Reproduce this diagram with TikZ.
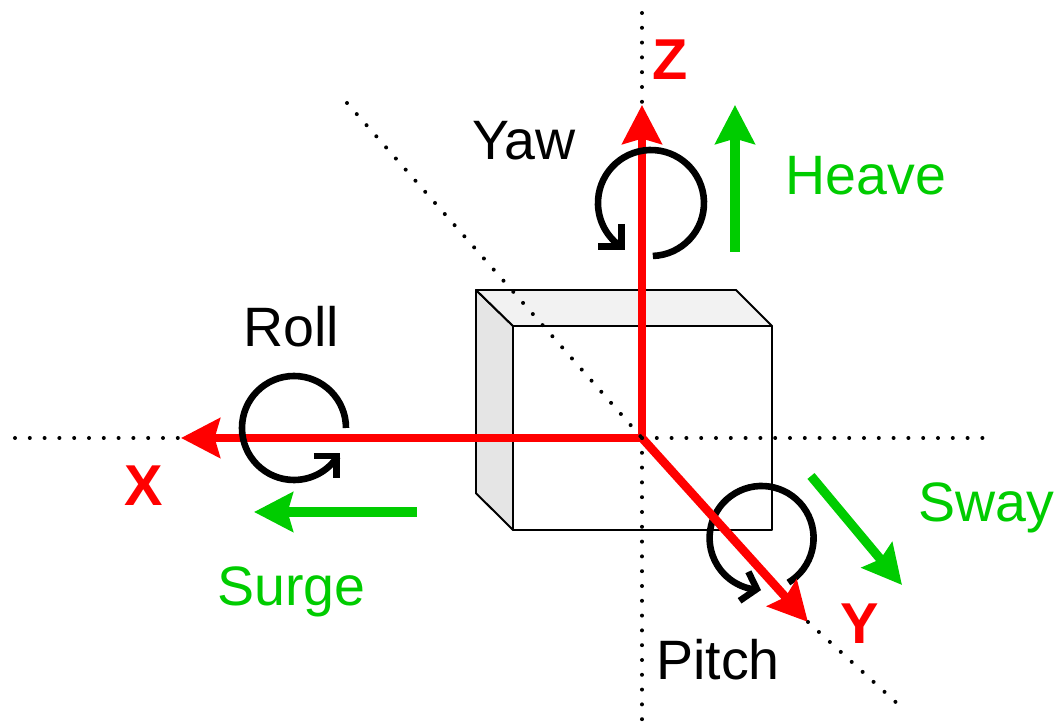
\documentclass[tikz,border=0pt]{standalone}
\usepackage{fontspec}
\setmainfont{Liberation Sans}
\usetikzlibrary{arrows.meta}
\definecolor{moveGreen}{RGB}{0,204,0}
\begin{document}
\begin{tikzpicture}[boxFace/.style={draw=black, line width=1.4pt, line join=round},
    dotAxis/.style={line width=0.1cm, line cap=round, dash pattern=on 0pt off 0.37cm},
    axisArrow/.style={-{Stealth[length=0.97cm, width=0.98cm, inset=0.13cm]}, red, line width=0.215cm},
    moveArrow/.style={-{Stealth[length=0.97cm, width=0.98cm, inset=0.13cm]}, moveGreen, line width=0.23cm},
    turnArrow/.style={line width=0.165cm, miter limit=10},
    angleText/.style={font=\fontsize{39.5}{46}\selectfont, anchor=base},
    moveText/.style={angleText, text=moveGreen},
    axisText/.style={font=\fontsize{41}{48}\bfseries\selectfont, text=red}]

    \useasboundingbox (-16.05, -7.1) rectangle (10.35, 10.95);

    \coordinate (origin) at (0, 0);
    \coordinate (zEnd) at (0, 8.325);
    \coordinate (xEnd) at (-11.525, 0);
    \coordinate (yEnd) at (4.15, -4.6);
    \coordinate (zFar) at (0, 10.625);
    \coordinate (zNear) at (0, -7.1);
    \coordinate (xFar) at (-15.675, 0);
    \coordinate (xNear) at (8.7, 0);
    \coordinate (yFar) at (-7.375, 8.375);
    \coordinate (yNear) at (6.45, -6.7);

    % box
    \filldraw[boxFace, fill=black!10] (-4.15, 3.7) -- (-3.225, 2.8) -- (-3.225, -2.3) -- (-4.15, -1.38) -- cycle;
    \filldraw[boxFace, fill=black!5] (-4.15, 3.7) -- (2.35, 3.7) -- (3.25, 2.8) -- (-3.225, 2.8) -- cycle;
    \draw[boxFace] (-3.225, -2.3) rectangle (3.25, 2.8);

    % pitch sits under the red axis
    \coordinate (pitchC) at (2.99, -2.5);
    \draw[turnArrow] ([shift={(-59:1.3)}]pitchC) arc[start angle=-59, end angle=265, radius=1.3];
    \draw[turnArrow] (2.66, -3.345) -- (2.87, -3.775) -- (2.44, -4.07);

    \draw[axisArrow] (origin) -- (zEnd);
    \draw[axisArrow] (origin) -- (xEnd);
    \draw[axisArrow] (origin) -- (yEnd);

    \draw[dotAxis] (zFar) -- (zEnd);
    \draw[dotAxis] (origin) -- (zNear);
    \draw[dotAxis] (xFar) -- (xEnd);
    \draw[dotAxis] (origin) -- (xNear);
    \draw[dotAxis] (yFar) -- (origin);
    \draw[dotAxis] (yEnd) -- (yNear);

    \coordinate (yawC) at (0.225, 5.875);
    \coordinate (rollC) at (-8.7, 0.25);
    \draw[turnArrow] ([shift={(-88:1.325)}]yawC) arc[start angle=-88, end angle=236, radius=1.325];
    \draw[turnArrow] (-0.5075, 5.35) -- (-0.5075, 4.7825) -- (-1.1, 4.7825);
    \draw[turnArrow] ([shift={(0:1.3)}]rollC) arc[start angle=0, end angle=327, radius=1.3];
    \draw[turnArrow] (-8.2, -0.45) -- (-7.635, -0.45) -- (-7.635, -1);

    \coordinate (heaveA) at (2.325, 4.65);
    \coordinate (heaveB) at (2.325, 8.325);
    \coordinate (surgeA) at (-5.625, -1.85);
    \coordinate (surgeB) at (-9.7, -1.85);
    \coordinate (swayA) at (4.225, -0.95);
    \coordinate (swayB) at (6.5, -3.675);
    \draw[moveArrow] (heaveA) -- (heaveB);
    \draw[moveArrow] (surgeA) -- (surgeB);
    \draw[moveArrow] (swayA) -- (swayB);

    \node[axisText] (zLabel) at (0.7, 9.47) {Z};
    \node[axisText] (xLabel) at (-12.45, -1.2) {X};
    \node[axisText] (yLabel) at (5.45, -4.65) {Y};

    \node[angleText] (yawLabel) at (-2.95, 6.95) {Yaw};
    \node[angleText] (rollLabel) at (-8.77, 2.28) {Roll};
    \node[angleText] (pitchLabel) at (1.9, -6.05) {Pitch};
    \node[moveText] (heaveLabel) at (5.6, 6.08) {Heave};
    \node[moveText] (surgeLabel) at (-8.77, -4.18) {Surge};
    \node[moveText] (swayLabel) at (8.6, -2.1) {Sway};
\end{tikzpicture}
\end{document}
